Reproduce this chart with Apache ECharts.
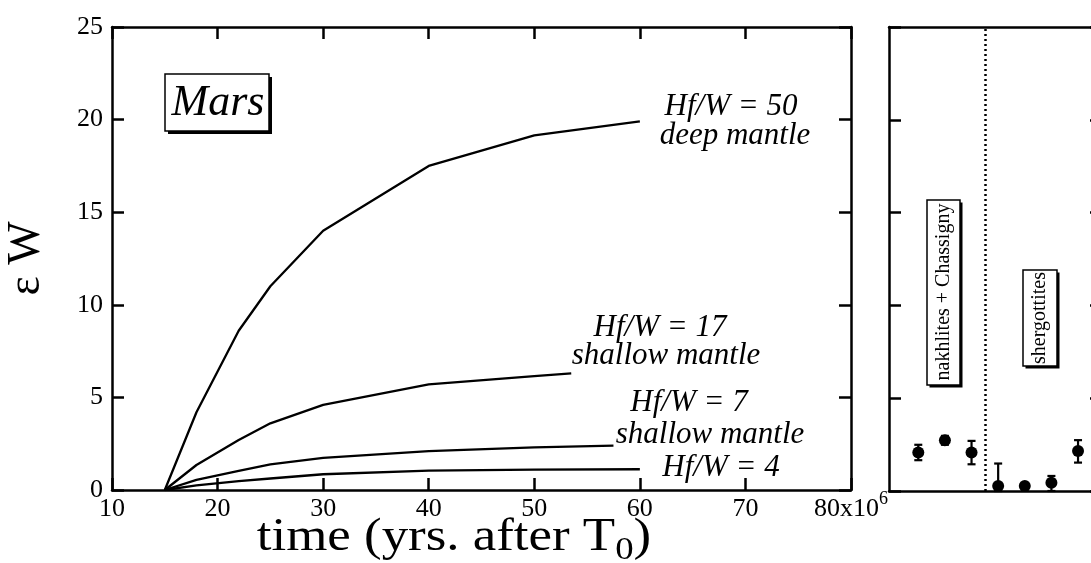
<!DOCTYPE html>
<html><head><meta charset="utf-8">
<script src="https://cdn.jsdelivr.net/npm/echarts@6/dist/echarts.min.js"></script>
<style>html,body{margin:0;padding:0;background:#fff}#c{width:1091px;height:563px}</style>
</head><body><div id="c"></div>
<script>
// ---- data ----
const time50 = [15, 18, 22, 25, 30, 40, 50, 60];
const ew50   = [0, 4.2, 8.6, 11.0, 14.0, 17.5, 19.15, 19.9];
const time17 = [15, 18, 22, 25, 30, 40, 50, 53.5];
const ew17   = [0, 1.35, 2.7, 3.6, 4.6, 5.7, 6.15, 6.3];
const time7  = [15, 18, 22, 25, 30, 40, 50, 57.5];
const ew7    = [0, 0.55, 1.03, 1.38, 1.73, 2.1, 2.3, 2.4];
const time4  = [15, 18, 22, 25, 30, 40, 50, 60];
const ew4    = [0, 0.25, 0.48, 0.62, 0.85, 1.05, 1.1, 1.12];
const curveNames = ['Hf/W = 50', 'Hf/W = 17', 'Hf/W = 7', 'Hf/W = 4'];

const sampleX   = [1, 2, 3, 4, 5, 6, 7];
const sampleEW  = [2.07, 2.74, 2.07, 0.27, 0.27, 0.45, 2.16];
const sampleLow = [1.66, 2.49, 1.44, 0.0, 0.12, 0.0, 1.53];
const sampleHigh= [2.49, 2.97, 2.70, 1.48, 0.42, 0.81, 2.74];
const groupDivider = 3.5;
const groupNames = ['nakhlites + Chassigny', 'shergottites'];

const yTicksMax = 25;
// ---- chart ----
const FONT = '"Liberation Serif", "Times New Roman", serif';
const chart = echarts.init(document.getElementById('c'), null, {renderer: 'canvas'});
const axisLineStyle = {color: '#000', width: 2.5};
const tickStyle = {show: true, inside: true, length: 12, lineStyle: {color: '#000', width: 2.5}};

function zip(a, b) { return a.map((v, i) => [v, b[i]]); }
function curve(name, t, e) {
  return {name, type: 'line', xAxisIndex: 0, yAxisIndex: 0, data: zip(t, e),
    showSymbol: false, symbol: 'none', lineStyle: {color: '#000', width: 2.3}, silent: true};
}
function shadowBox(x, y, w, h, off) {
  return [
    {type: 'rect', shape: {x: x + off, y: y + off, width: w, height: h}, style: {fill: '#000'}, z: 10},
    {type: 'rect', shape: {x: x, y: y, width: w, height: h}, style: {fill: '#fff', stroke: '#000', lineWidth: 1.5}, z: 10}
  ];
}
const labelFont = 'italic 31px ' + FONT;
function note(text, x, y) {
  return {type: 'text', x, y, z: 11, style: {text, font: labelFont, fill: '#000', align: 'center', verticalAlign: 'middle'}};
}

const option = {
  animation: false,
  backgroundColor: '#fff',
  grid: [
    {left: 112, top: 27, width: 739, height: 463, outerBoundsMode: 'none', containLabel: false},
    {left: 889, top: 27, width: 213, height: 464, outerBoundsMode: 'none', containLabel: false}
  ],
  xAxis: [
    {gridIndex: 0, type: 'value', min: 10, max: 80, interval: 10,
     axisLine: {onZero: false, lineStyle: axisLineStyle}, axisTick: tickStyle, splitLine: {show: false},
     axisLabel: {color: '#000', fontFamily: FONT, fontSize: 26, margin: 6, showMinLabel: true, showMaxLabel: true,
       formatter: v => v === 80 ? '80x10{sup|6}' : String(v),
       rich: {sup: {fontSize: 18, fontFamily: FONT, color: '#000', lineHeight: 18, padding: [-6, 0, 0, 0], verticalAlign: 'top'}}}},
    {gridIndex: 0, type: 'value', min: 10, max: 80, interval: 10, position: 'top',
     axisLine: {onZero: false, lineStyle: axisLineStyle}, axisTick: tickStyle, axisLabel: {show: false}, splitLine: {show: false}},
    {gridIndex: 1, type: 'value', min: -0.1, max: 7.9,
     axisLine: {onZero: false, lineStyle: axisLineStyle}, axisTick: {show: false}, axisLabel: {show: false}, splitLine: {show: false}},
    {gridIndex: 1, type: 'value', min: -0.1, max: 7.9, position: 'top',
     axisLine: {onZero: false, lineStyle: axisLineStyle}, axisTick: {show: false}, axisLabel: {show: false}, splitLine: {show: false}}
  ],
  yAxis: [
    {gridIndex: 0, type: 'value', min: 0, max: yTicksMax, interval: 5,
     axisLine: {onZero: false, lineStyle: axisLineStyle}, axisTick: tickStyle, splitLine: {show: false},
     axisLabel: {color: '#000', fontFamily: FONT, fontSize: 26, margin: 9},
     name: 'ε W', nameLocation: 'middle', nameRotate: 90, nameGap: 62,
     nameTextStyle: {color: '#000', fontFamily: FONT, fontSize: 46}},
    {gridIndex: 0, type: 'value', min: 0, max: yTicksMax, interval: 5, position: 'right',
     axisLine: {onZero: false, lineStyle: axisLineStyle}, axisTick: tickStyle, axisLabel: {show: false}, splitLine: {show: false}},
    {gridIndex: 1, type: 'value', min: 0, max: yTicksMax, interval: 5,
     axisLine: {onZero: false, lineStyle: axisLineStyle}, axisTick: tickStyle, axisLabel: {show: false}, splitLine: {show: false}},
    {gridIndex: 1, type: 'value', min: 0, max: yTicksMax, interval: 5, position: 'right',
     axisLine: {onZero: false, lineStyle: axisLineStyle}, axisTick: tickStyle, axisLabel: {show: false}, splitLine: {show: false}}
  ],
  series: [
    curve(curveNames[0], time50, ew50),
    curve(curveNames[1], time17, ew17),
    curve(curveNames[2], time7, ew7),
    curve(curveNames[3], time4, ew4),
    {type: 'custom', xAxisIndex: 2, yAxisIndex: 2, silent: true,
     data: sampleX.map((x, i) => [x, sampleLow[i], sampleHigh[i]]),
     renderItem: function (params, api) {
       const lo = api.coord([api.value(0), api.value(1)]);
       const hi = api.coord([api.value(0), api.value(2)]);
       const hw = 4;
       const st = {stroke: '#000', lineWidth: 2.2};
       return {type: 'group', children: [
         {type: 'line', shape: {x1: lo[0], y1: lo[1], x2: hi[0], y2: hi[1]}, style: st},
         {type: 'line', shape: {x1: lo[0] - hw, y1: lo[1], x2: lo[0] + hw, y2: lo[1]}, style: st},
         {type: 'line', shape: {x1: hi[0] - hw, y1: hi[1], x2: hi[0] + hw, y2: hi[1]}, style: st}
       ]};
     }},
    {type: 'scatter', xAxisIndex: 2, yAxisIndex: 2, data: zip(sampleX, sampleEW), symbol: 'circle', symbolSize: 12,
     itemStyle: {color: '#000', opacity: 1}, silent: true,
     markLine: {silent: true, symbol: 'none', label: {show: false},
       lineStyle: {color: '#000', type: [2, 3], width: 2.5},
       data: [{xAxis: groupDivider}]}}
  ],
  graphic: [
    ...shadowBox(165, 74, 104, 57, 3),
    {type: 'text', x: 218, y: 103, z: 11,
     style: {text: 'Mars', font: 'italic 44px ' + FONT, fill: '#000', align: 'center', verticalAlign: 'middle'}},
    note(curveNames[0], 731, 107),
    note('deep mantle', 735, 136),
    note(curveNames[1], 660, 328),
    note('shallow mantle', 666, 356),
    note(curveNames[2], 689, 403),
    note('shallow mantle', 710, 435),
    note(curveNames[3], 721, 468),
    {type: 'text', x: 454, y: 538, z: 11, scaleX: 1.15,
     style: {text: 'time (yrs. after T{sub|0})', font: '46px ' + FONT, fill: '#000', align: 'center', verticalAlign: 'middle',
       rich: {sub: {font: '32px ' + FONT, fill: '#000', lineHeight: 32, padding: [0, 0, -6, 0], verticalAlign: 'bottom'}}}},
    ...shadowBox(927, 200, 33, 185, 2.5),
    {type: 'text', x: 944, y: 292, rotation: Math.PI / 2, z: 11,
     style: {text: groupNames[0], font: '20px ' + FONT, fill: '#000', align: 'center', verticalAlign: 'middle'}},
    ...shadowBox(1023, 270, 34, 96, 2.5),
    {type: 'text', x: 1040, y: 318, rotation: Math.PI / 2, z: 11,
     style: {text: groupNames[1], font: '20px ' + FONT, fill: '#000', align: 'center', verticalAlign: 'middle'}}
  ]
};
chart.setOption(option);
</script>
</body></html>
